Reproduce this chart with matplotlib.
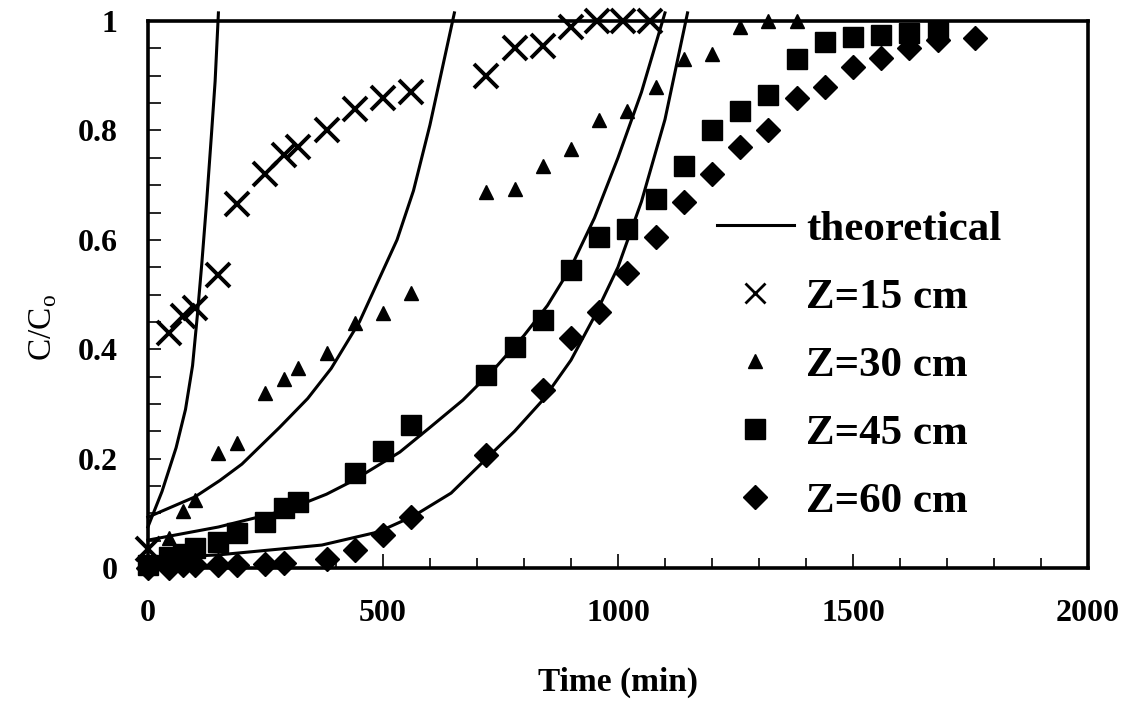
import matplotlib
matplotlib.use("Agg")
import matplotlib.pyplot as plt
from matplotlib.lines import Line2D
from matplotlib.ticker import MultipleLocator, FixedLocator, FixedFormatter

plt.rcParams['font.family'] = ['Liberation Serif', 'DejaVu Serif']
plt.rcParams['mathtext.fontset'] = 'custom'
plt.rcParams['mathtext.rm'] = 'Liberation Serif'

# ---- measured data ----
t15 = [0, 45, 75, 100, 150, 190, 250, 290, 320, 380, 440, 500, 560, 720, 780, 840, 900, 955, 1010, 1068]
c15 = [0.035, 0.43, 0.46, 0.475, 0.535, 0.665, 0.72, 0.755, 0.77, 0.80, 0.84, 0.86, 0.87, 0.90, 0.95, 0.955, 0.99, 1.0, 1.0, 1.0]

t30 = [0, 45, 75, 100, 150, 190, 250, 290, 320, 380, 440, 500, 560, 720, 780, 840, 900, 960, 1020, 1080, 1140, 1200, 1260, 1320, 1380]
c30 = [0.01, 0.055, 0.105, 0.125, 0.21, 0.228, 0.32, 0.345, 0.366, 0.393, 0.448, 0.466, 0.503, 0.687, 0.693, 0.735, 0.766, 0.82, 0.835, 0.88, 0.93, 0.94, 0.99, 1.0, 1.0]

t45 = [0, 45, 75, 100, 150, 190, 250, 290, 320, 440, 500, 560, 720, 780, 840, 900, 960, 1020, 1080, 1140, 1200, 1260, 1320, 1380, 1440, 1500, 1560, 1620, 1680]
c45 = [0.005, 0.02, 0.025, 0.037, 0.048, 0.064, 0.084, 0.11, 0.121, 0.173, 0.214, 0.261, 0.353, 0.404, 0.453, 0.545, 0.605, 0.62, 0.675, 0.735, 0.80, 0.835, 0.865, 0.93, 0.962, 0.97, 0.974, 0.978, 0.982]

t60 = [0, 45, 75, 100, 150, 190, 250, 290, 380, 440, 500, 560, 720, 840, 900, 960, 1020, 1080, 1140, 1200, 1260, 1320, 1380, 1440, 1500, 1560, 1620, 1680, 1760]
c60 = [0.0, 0.0, 0.005, 0.005, 0.005, 0.005, 0.008, 0.01, 0.017, 0.033, 0.06, 0.093, 0.207, 0.325, 0.42, 0.468, 0.54, 0.605, 0.67, 0.72, 0.77, 0.80, 0.86, 0.88, 0.916, 0.932, 0.95, 0.965, 0.969]

# theoretical curves
th15_t = [0, 30, 60, 80, 95, 105, 115, 125, 135, 143, 150]
th15_c = [0.075, 0.14, 0.22, 0.29, 0.37, 0.46, 0.56, 0.67, 0.79, 0.89, 1.015]
th30_t = [0, 100, 153, 200, 280, 340, 390, 450, 530, 565, 600, 652]
th30_c = [0.093, 0.13, 0.16, 0.19, 0.257, 0.31, 0.365, 0.45, 0.60, 0.69, 0.81, 1.015]
th45_t = [0, 150, 295, 380, 437, 536, 600, 670, 740, 800, 850, 900, 950, 1000, 1050, 1100]
th45_c = [0.051, 0.075, 0.106, 0.135, 0.16, 0.212, 0.257, 0.307, 0.367, 0.425, 0.48, 0.55, 0.64, 0.75, 0.87, 1.015]
th60_t = [0, 150, 370, 490, 565, 645, 720, 780, 840, 900, 950, 1000, 1050, 1100, 1148]
th60_c = [0.018, 0.024, 0.042, 0.066, 0.095, 0.137, 0.20, 0.25, 0.307, 0.38, 0.46, 0.55, 0.67, 0.82, 1.015]

labels = ['theoretical', 'Z=15 cm', 'Z=30 cm', 'Z=45 cm', 'Z=60 cm']
xticks = [0, 500, 1000, 1500, 2000]
yticks = [0, 0.2, 0.4, 0.6, 0.8, 1.0]
ytick_labels = ['0', '0.2', '0.4', '0.6', '0.8', '1']

fig = plt.figure(figsize=(11.29, 7.03), dpi=100)
ax = fig.add_axes([0.131, 0.192, 0.8327, 0.778])

lw_th = 2.2
for tt, cc in [(th15_t, th15_c), (th30_t, th30_c), (th45_t, th45_c), (th60_t, th60_c)]:
    ax.plot(tt, cc, color='black', lw=lw_th, clip_on=False, zorder=3,
            solid_joinstyle='round')

ax.plot(t15, c15, ls='none', marker='x', ms=17, mew=2.8, color='black', clip_on=False, zorder=4)
ax.plot(t30, c30, ls='none', marker='^', ms=10, color='black', clip_on=False, zorder=4)
ax.plot(t45, c45, ls='none', marker='s', ms=15, color='black', clip_on=False, zorder=4)
ax.plot(t60, c60, ls='none', marker='D', ms=12, color='black', clip_on=False, zorder=4)

ax.set_xlim(0, 2000)
ax.set_ylim(0, 1)

ax.xaxis.set_major_locator(FixedLocator(xticks))
ax.xaxis.set_minor_locator(MultipleLocator(100))
ax.yaxis.set_major_locator(FixedLocator(yticks))
ax.yaxis.set_major_formatter(FixedFormatter(ytick_labels))
ax.yaxis.set_minor_locator(MultipleLocator(0.05))

for s in ax.spines.values():
    s.set_linewidth(2.6)

ax.tick_params(axis='x', which='major', direction='in', length=10, width=1.2, pad=22,
               labelsize=23, top=False)
ax.tick_params(axis='x', which='minor', direction='in', length=7, width=1.2, top=False)
ax.tick_params(axis='y', which='major', direction='in', length=9, width=1.2, pad=22,
               labelsize=23, right=False)
ax.tick_params(axis='y', which='minor', direction='in', length=9, width=1.2, right=False)
for lab in ax.get_xticklabels() + ax.get_yticklabels():
    lab.set_fontweight('bold')

ax.set_xlabel('Time (min)', fontsize=24, fontweight='bold')
ax.xaxis.set_label_coords(0.5, -0.18)
ax.set_ylabel(r'C/C$_\mathrm{o}$', fontsize=24)
ax.yaxis.set_label_coords(-0.095, 0.44)

handles = [
    Line2D([], [], color='black', lw=lw_th),
    Line2D([], [], ls='none', marker='x', ms=14, mew=2.0, color='black'),
    Line2D([], [], ls='none', marker='^', ms=10, color='black'),
    Line2D([], [], ls='none', marker='s', ms=15, color='black'),
    Line2D([], [], ls='none', marker='D', ms=12, color='black'),
]
leg = ax.legend(handles, labels, loc='upper left', bbox_to_anchor=(0.605, 0.654),
                frameon=False, prop=dict(family='Liberation Serif', weight='bold', size=31),
                handlelength=1.8, handletextpad=0.27, labelspacing=0.67, borderpad=0,
                borderaxespad=0)

fig.savefig('out.png', dpi=100)
